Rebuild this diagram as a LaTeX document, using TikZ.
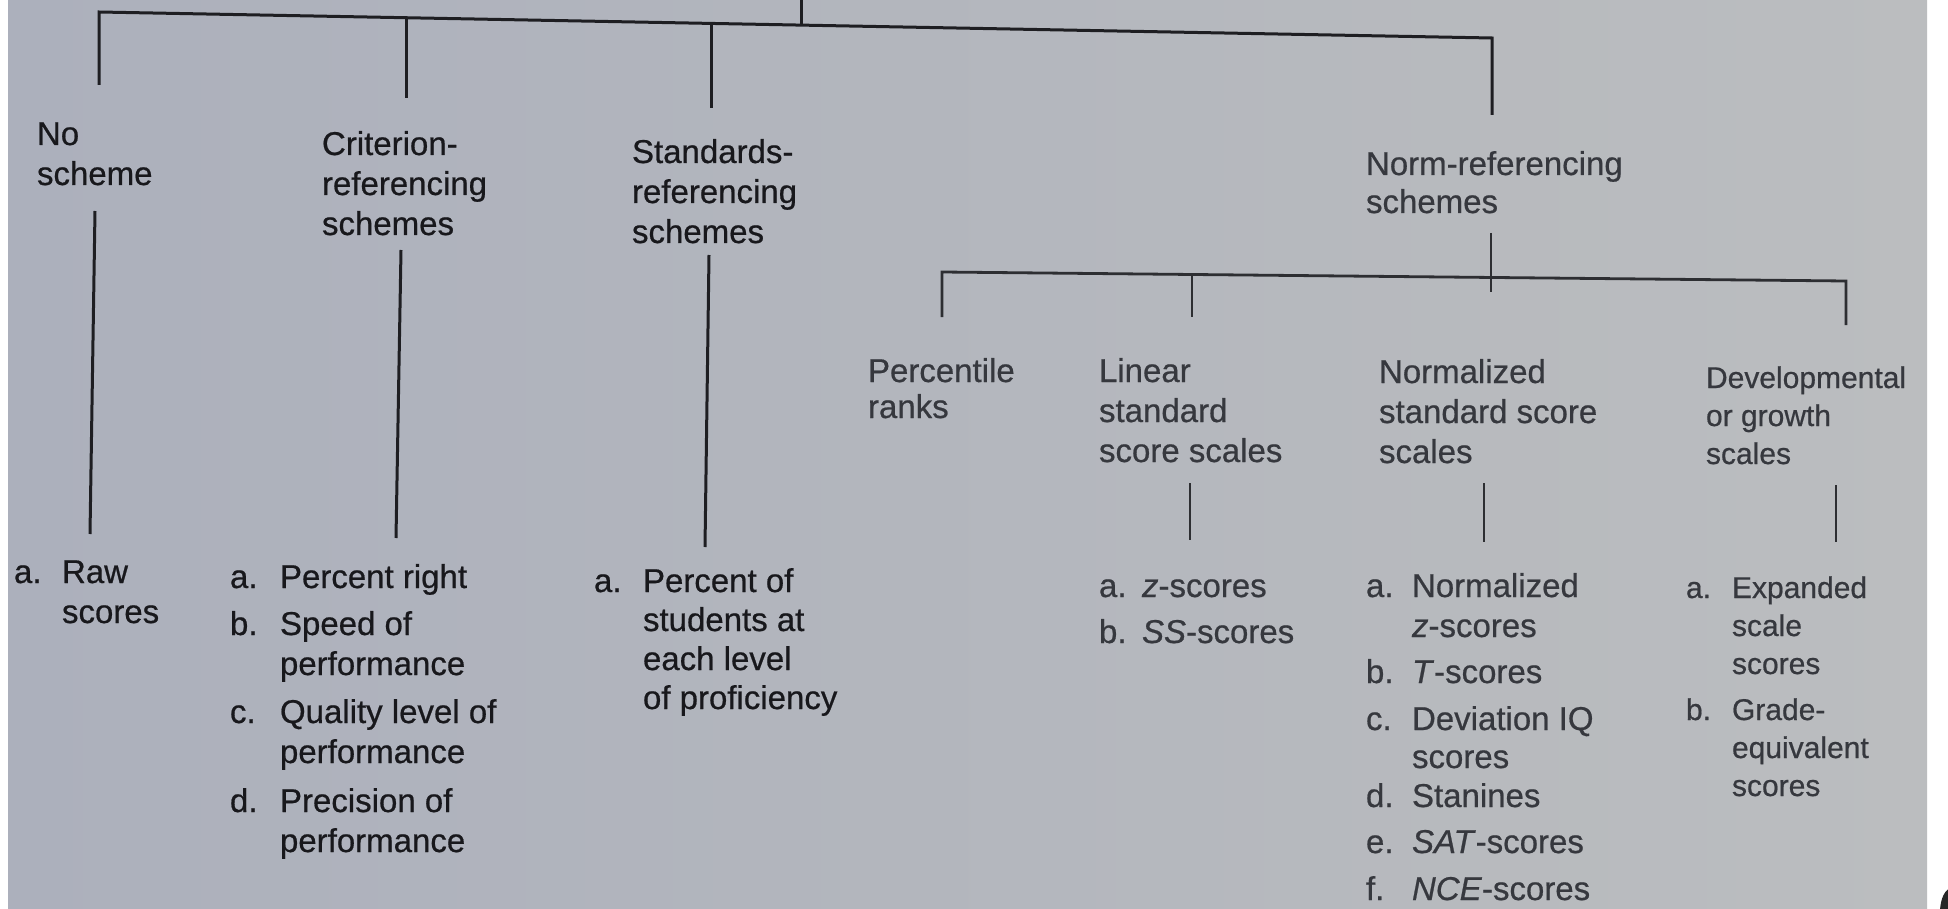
\documentclass[tikz,border=0pt]{standalone}
\usepackage{fontspec}
\setmainfont{Liberation Sans}[FakeBold=0.6]
\definecolor{dk}{RGB}{24,24,28}
\definecolor{gy}{RGB}{54,56,62}
\definecolor{ln}{RGB}{30,30,34}
\definecolor{lngy}{RGB}{45,46,50}
\definecolor{bgl}{RGB}{172,176,188}
\definecolor{bgr}{RGB}{187,189,191}
\newcommand{\itm}[7]{%
  \node[#1] (#2l) at (#3,#5) {\strut #6};
  \node[#1] (#2) at (#4,#5) {\strut #7};}
\begin{document}
\begin{tikzpicture}[x=1pt,y=-1pt,
  wire/.style={line width=3pt, draw=ln, line join=miter},
  wiregy/.style={line width=2.8pt, draw=lngy, line join=miter},
  txt/.style={anchor=north west, inner sep=0pt, outer sep=0pt, align=left,
    yshift=28pt, font=\fontsize{33}{40}\selectfont},
  hdk/.style={txt, text=dk},
  hgy/.style={txt, text=gy},
  hgys/.style={anchor=north west, inner sep=0pt, outer sep=0pt, align=left,
    yshift=26.6pt, font=\fontsize{30}{38}\selectfont, text=gy}]
\useasboundingbox (0,0) rectangle (1948,909);
\fill[white] (0,0) rectangle (1948,909);
\shade[left color=bgl, right color=bgr] (8,0) rectangle (1927,909);
\fill[black!85] (1952,912) ellipse (12 and 24);

% ---------- headers ----------
\node[hdk] (nosch) at (37,145) {\strut No\\scheme};
\node[hdk] (crit) at (322,155) {\strut Criterion-\\referencing\\schemes};
\node[hdk] (stand) at (632,163) {\strut Standards-\\referencing\\schemes};
\node[hgy] (norm) at (1366,175) {\strut Norm-referencing\\[-2pt]schemes};

% ---------- sub-headers ----------
\node[hgy] (perc) at (868,382) {\strut Percentile\\[-4pt]ranks};
\node[hgy] (lin) at (1099,382) {\strut Linear\\standard\\score scales};
\node[hgy] (nrm) at (1379,383) {\strut Normalized\\standard score\\scales};
\node[hgys] (dev) at (1706,388) {\strut Developmental\\or growth\\scales};

% ---------- items ----------
\itm{hdk}{raw}{14}{62}{583}{a.}{Raw\\scores}
\itm{hdk}{ca}{230}{280}{588}{a.}{Percent right}
\itm{hdk}{cb}{230}{280}{635}{b.}{Speed of\\performance}
\itm{hdk}{cc}{230}{280}{723}{c.}{Quality level of\\performance}
\itm{hdk}{cd}{230}{280}{812}{d.}{Precision of\\performance}
\itm{hdk}{sa}{594}{643}{592}{a.}{Percent of\\[-1pt]students at\\[-1pt]each level\\[-1pt]of proficiency}
\itm{hgy}{la}{1099}{1142}{597}{a.}{\textit{z}-scores}
\itm{hgy}{lb}{1099}{1142}{643}{b.}{\textit{SS}-scores}
\itm{hgy}{na}{1366}{1412}{597}{a.}{Normalized\\\textit{z}-scores}
\itm{hgy}{nb}{1366}{1412}{683}{b.}{\textit{T}-scores}
\itm{hgy}{nc}{1366}{1412}{730}{c.}{Deviation IQ\\[-2pt]scores}
\itm{hgy}{nd}{1366}{1412}{807}{d.}{Stanines}
\itm{hgy}{ne}{1366}{1412}{853}{e.}{\textit{SAT}-scores}
\itm{hgy}{nf}{1366}{1412}{900}{f.}{\textit{NCE}-scores}
\itm{hgys}{da}{1686}{1732}{598}{a.}{Expanded\\scale\\scores}
\itm{hgys}{db}{1686}{1732}{720}{b.}{Grade-\\equivalent\\scores}

% ---------- coordinates ----------
\coordinate (stemT) at (801,0);
\coordinate (stemB) at (801,25.1);
\coordinate (barL) at (99,12);
\coordinate (barR) at (1492,38);
\coordinate (d1) at (99,85);
\coordinate (d2a) at (406,17.7);  \coordinate (d2) at (406,98);
\coordinate (d3a) at (711,23.4);  \coordinate (d3) at (711,108);
\coordinate (d4) at (1492,115);
\coordinate (v1a) at (95,211);  \coordinate (v1b) at (90,534);
\coordinate (v2a) at (401,250); \coordinate (v2b) at (396,538);
\coordinate (v3a) at (709,255); \coordinate (v3b) at (705,547);
\coordinate (nstA) at (1491,233); \coordinate (nstB) at (1491,292);
\coordinate (lbL) at (942,272); \coordinate (lbR) at (1846,281);
\coordinate (e1) at (942,317);
\coordinate (e2a) at (1192,274.5); \coordinate (e2) at (1192,317);
\coordinate (e4) at (1846,325);
\coordinate (s1a) at (1190,483); \coordinate (s1b) at (1190,540);
\coordinate (s2a) at (1484,483); \coordinate (s2b) at (1484,542);
\coordinate (s3a) at (1836,485); \coordinate (s3b) at (1836,542);

% ---------- connectors ----------
\draw[wire] (stemT) -- (stemB);
\draw[wire] (d1) -- (barL) -- (barR) -- (d4);
\draw[wire] (d2a) -- (d2);
\draw[wire] (d3a) -- (d3);
\draw[wire] (v1a) -- (v1b);
\draw[wire] (v2a) -- (v2b);
\draw[wire] (v3a) -- (v3b);
\draw[wiregy] (nstA) -- (nstB);
\draw[wiregy] (e1) -- (lbL) -- (lbR) -- (e4);
\draw[wiregy] (e2a) -- (e2);
\draw[wiregy] (s1a) -- (s1b);
\draw[wiregy] (s2a) -- (s2b);
\draw[wiregy] (s3a) -- (s3b);
\end{tikzpicture}
\end{document}
